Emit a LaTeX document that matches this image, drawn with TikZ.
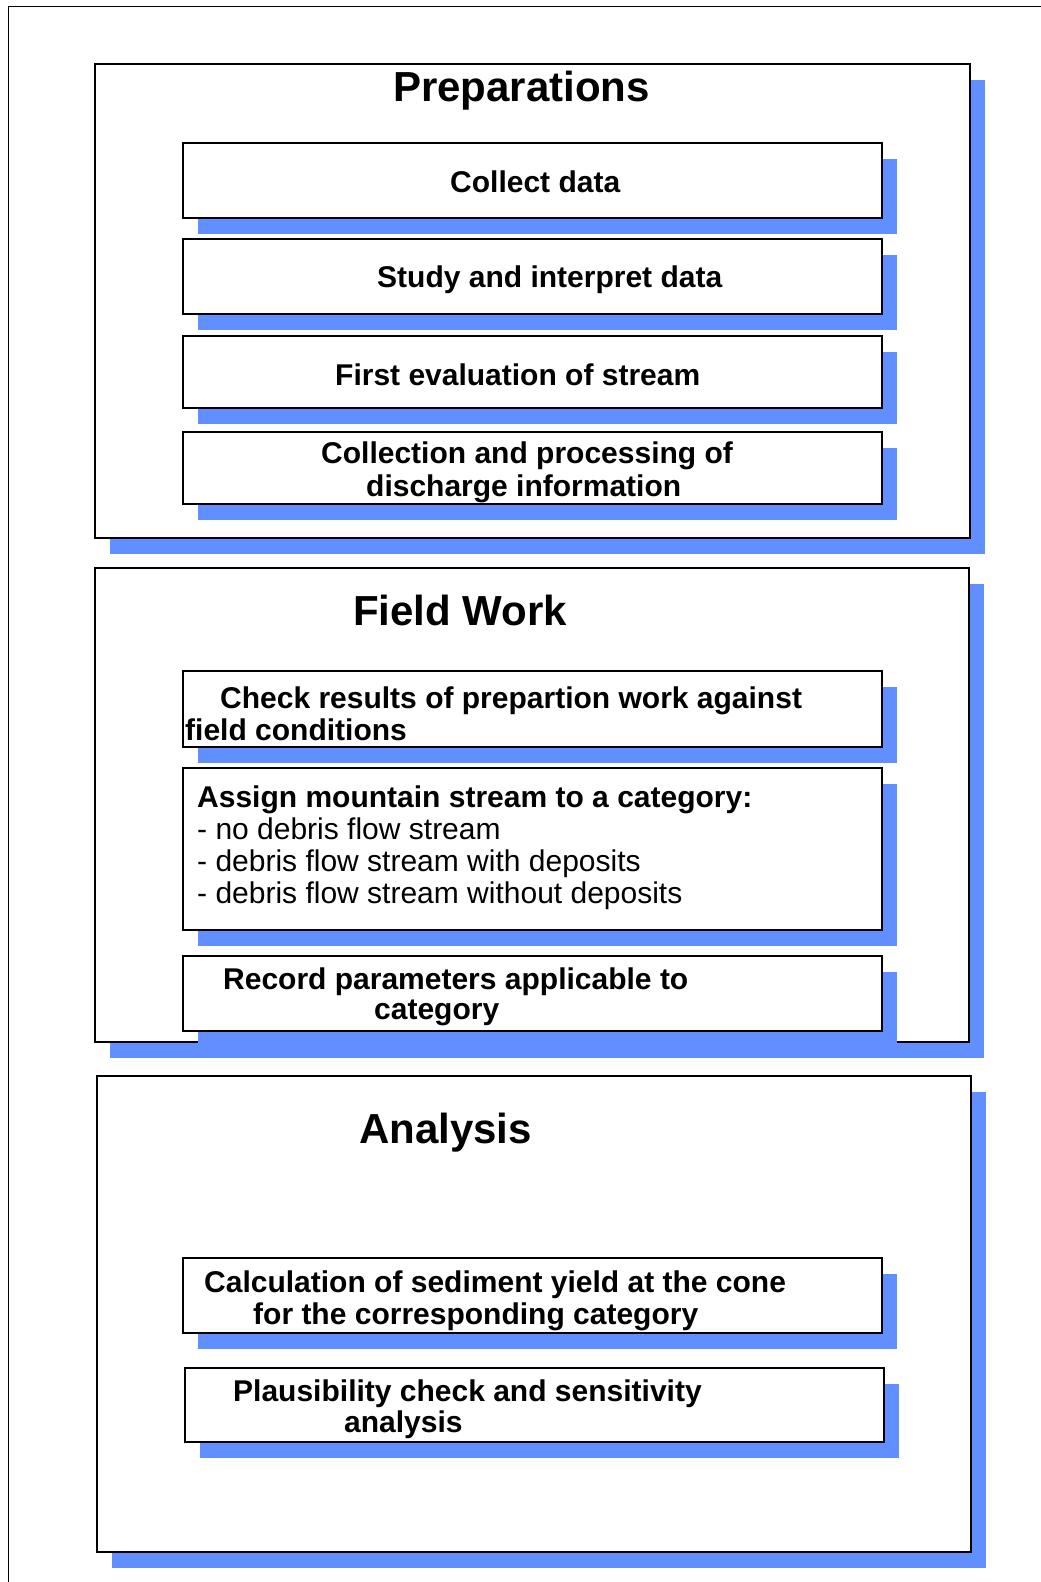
\documentclass[tikz,border=0pt]{standalone}
\usepackage{fontspec}
\setmainfont{Liberation Sans}
\usepackage{tikz}
\usetikzlibrary{shadows}
\definecolor{shadowblue}{RGB}{97,143,255}

\begin{document}
\begin{tikzpicture}[x=1pt,y=-1pt,
    blueshadow/.style={drop shadow={shadow xshift=15pt,shadow yshift=-16pt,fill=shadowblue,opacity=1}},
    secframe/.style={draw,line width=2pt,fill=white,anchor=north west,inner sep=0pt,blueshadow},
    stepbox/.style={secframe,minimum width=699pt},
    title/.style={anchor=base west,inner sep=0pt,font=\fontsize{42}{44}\selectfont\bfseries},
    lbl/.style={anchor=base west,inner sep=0pt,font=\fontsize{30}{32}\selectfont\bfseries},
    plain/.style={anchor=base west,inner sep=0pt,font=\fontsize{30}{32}\selectfont}]
  \useasboundingbox (0,0) rectangle (1041,1582);
  % page frame, cut at the right and bottom
  \draw[line width=1pt] (8,1582) -- (8,6) -- (1041,6);

  % Preparations
  \node (prep) [secframe,minimum width=875pt,minimum height=474pt] at (94,63) {};
  \node (prept) [title] at (393,101) {Preparations};
  \node (collect) [stepbox,minimum height=75pt] at (182,142) {};
  \node (study) [stepbox,minimum height=75pt] at (182,238) {};
  \node (first) [stepbox,minimum height=72pt] at (182,335) {};
  \node (disch) [stepbox,minimum height=72pt] at (182,431) {};
  \node (collectl) [lbl] at (450,192) {Collect data};
  \node (studyl) [lbl] at (377,287) {Study and interpret data};
  \node (firstl) [lbl] at (335,385) {First evaluation of stream};
  \node (dischla) [lbl] at (321,463) {Collection and processing of};
  \node (dischlb) [lbl] at (366,496) {discharge information};

  % Field Work
  \node (field) [secframe,minimum width=874pt,minimum height=474pt] at (94,567) {};
  \node (fieldt) [title] at (353,625) {Field Work};
  \node (check) [stepbox,minimum height=76pt] at (182,670) {};
  \node (assign) [stepbox,minimum height=162pt] at (182,767) {};
  \node (record) [stepbox,minimum height=75pt] at (182,955) {};
  \node (checkla) [lbl] at (220,708) {Check results of prepartion work against};
  \node (checklb) [lbl] at (185,740) {field conditions};
  \node (assignl) [lbl] at (197,807) {Assign mountain stream to a category:};
  \node (assigna) [plain] at (197,839) {- no debris flow stream};
  \node (assignb) [plain] at (197,871) {- debris flow stream with deposits};
  \node (assignc) [plain] at (197,903) {- debris flow stream without deposits};
  \node (recordla) [lbl] at (223,989) {Record parameters applicable to};
  \node (recordlb) [lbl] at (374,1019) {category};

  % Analysis
  \node (anal) [secframe,minimum width=874pt,minimum height=476pt] at (96,1075) {};
  \node (analt) [title] at (359,1143) {Analysis};
  \node (calc) [stepbox,minimum height=75pt] at (182,1257) {};
  \node (plaus) [stepbox,minimum height=74pt] at (184,1367) {};
  \node (calcla) [lbl] at (204,1292) {Calculation of sediment yield at the cone};
  \node (calclb) [lbl] at (253,1324) {for the corresponding category};
  \node (plausla) [lbl] at (233,1401) {Plausibility check and sensitivity};
  \node (plauslb) [lbl] at (344,1432) {analysis};
\end{tikzpicture}
\end{document}
